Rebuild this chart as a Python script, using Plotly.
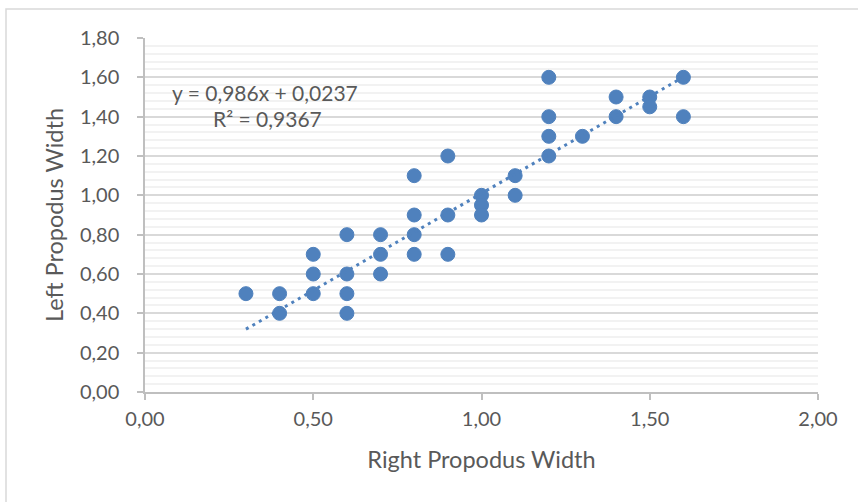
import plotly.graph_objects as go

# Paired propodus widths (right, left)
right_width = [0.3, 0.4, 0.4,
               0.5, 0.5, 0.5,
               0.6, 0.6, 0.6, 0.6,
               0.7, 0.7, 0.7,
               0.8, 0.8, 0.8, 0.8,
               0.9, 0.9, 0.9,
               1.0, 1.0, 1.0,
               1.1, 1.1,
               1.2, 1.2, 1.2, 1.2,
               1.3,
               1.4, 1.4,
               1.5, 1.5,
               1.6, 1.6]
left_width = [0.5, 0.5, 0.4,
              0.7, 0.6, 0.5,
              0.8, 0.6, 0.5, 0.4,
              0.8, 0.7, 0.6,
              1.1, 0.9, 0.8, 0.7,
              1.2, 0.9, 0.7,
              1.0, 0.95, 0.9,
              1.1, 1.0,
              1.6, 1.4, 1.3, 1.2,
              1.3,
              1.5, 1.4,
              1.5, 1.45,
              1.6, 1.4]

# Linear trendline coefficients as printed on the chart
slope = 0.986
intercept = 0.0237
r_squared = 0.9367

x_title = "Right Propodus Width"
y_title = "Left Propodus Width"

BLUE = "#4F81BD"
TEXT = "#595959"
FONT = "Lato"

trend_x = [min(right_width), max(right_width)]
trend_y = [slope * v + intercept for v in trend_x]

fig = go.Figure()
fig.add_trace(go.Scatter(
    x=right_width, y=left_width, mode="markers",
    marker=dict(size=14, color=BLUE, line=dict(color=BLUE, width=1)),
    showlegend=False, hoverinfo="x+y",
))
fig.add_trace(go.Scatter(
    x=trend_x, y=trend_y, mode="lines",
    line=dict(color=BLUE, width=3, dash="3px,4.5px"),
    showlegend=False, hoverinfo="skip",
))

def fmt(v, digits):
    return f"{v:.{digits}f}".replace(".", ",")

fig.add_annotation(x=0.357, y=1.525, xref="x", yref="y", showarrow=False,
                   text=f"y = {fmt(slope, 3)}x + {fmt(intercept, 4)}",
                   font=dict(family=FONT, size=21, color=TEXT))
fig.add_annotation(x=0.363, y=1.393, xref="x", yref="y", showarrow=False,
                   text=f"R² = {fmt(r_squared, 4)}",
                   font=dict(family=FONT, size=21, color=TEXT))

W, H = 858, 502
ML, MR, MT, MB = 145, 40, 38, 110
pw, ph = W - ML - MR, H - MT - MB

# outer chart frame (left/top edges visible, right/bottom run off the page)
fig.add_shape(type="rect", xref="paper", yref="paper",
              x0=(6 - ML) / pw, x1=(W + 4 - ML) / pw,
              y0=(MT + ph - (H + 4)) / ph, y1=(MT + ph - 9) / ph,
              line=dict(color="#d9d9d9", width=1.5), fillcolor="rgba(0,0,0,0)",
              layer="below")

fig.update_layout(
    width=W, height=H,
    margin=dict(l=ML, r=MR, t=MT, b=MB),
    paper_bgcolor="white", plot_bgcolor="white",
    separators=",.",
    font=dict(family=FONT, color=TEXT),
    xaxis=dict(
        range=[0, 2], dtick=0.5, tick0=0, tickformat=".2f",
        showgrid=False, zeroline=False,
        showline=True, linecolor="#bfbfbf", linewidth=1.5,
        ticks="outside", ticklen=6, tickcolor="#bfbfbf", tickwidth=1.5,
        ticklabelstandoff=2,
        tickfont=dict(family=FONT, size=20, color=TEXT),
        title=dict(text=x_title, font=dict(family=FONT, size=23.5, color=TEXT), standoff=23),
    ),
    yaxis=dict(
        range=[0, 1.8], dtick=0.2, tick0=0, tickformat=".2f",
        showgrid=True, gridcolor="#d9d9d9", gridwidth=1.5,
        zeroline=False,
        showline=True, linecolor="#bfbfbf", linewidth=1.5,
        ticks="outside", ticklen=6, tickcolor="#bfbfbf", tickwidth=1.5,
        ticklabelstandoff=14,
        tickfont=dict(family=FONT, size=20, color=TEXT),
        minor=dict(dtick=0.04, showgrid=True, gridcolor="#f2f2f2", gridwidth=1.5, ticks=""),
        title=dict(text=y_title, font=dict(family=FONT, size=23.5, color=TEXT), standoff=10),
    ),
)

fig.write_html("out.html")
